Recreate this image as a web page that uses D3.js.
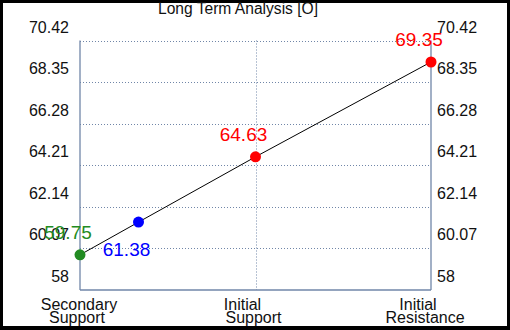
<!DOCTYPE html>
<html>
<head>
<meta charset="utf-8">
<script src="https://cdn.jsdelivr.net/npm/d3@7/dist/d3.min.js"></script>
<style>
  html, body { margin: 0; padding: 0; background: #000; }
  svg { display: block; }
  text { font-family: "Liberation Sans", Arial, sans-serif; }
</style>
</head>
<body>
<svg id="chart" width="510" height="330"></svg>
<script>
const title = "Long Term Analysis [O]";
const categories = ["Secondary Support", "Initial Support", "Initial Resistance"];
const categoryPos = [0, 3, 6];
const pointPos = [0, 1, 3, 6];
const pointValues = [59.75, 61.38, 64.63, 69.35];
const pointColors = ["#228B22", "#0000FF", "#FF0000", "#FF0000"];
const yTicks = [58, 60.07, 62.14, 64.21, 66.28, 68.35, 70.42];

(function () {
const svg = d3.select("#chart");
const W = 510, H = 330;
const axisColor = "#7086a8";

svg.append("rect").attr("x", 0).attr("y", 0).attr("width", W).attr("height", H).attr("fill", "#000");
svg.append("rect").attr("x", 3).attr("y", 3).attr("width", 504).attr("height", 323).attr("fill", "#fff");

const pLeft = 80, pRight = 431, pTop = 40.5, pBottom = 290;
const x = d3.scaleLinear().domain([0, 6]).range([pLeft, pRight]);
const y = d3.scaleLinear().domain([58, 70.42]).range([pBottom, pTop]);

// horizontal dotted grid
svg.append("g").selectAll("line").data(yTicks.slice(1)).join("line")
  .attr("x1", pLeft).attr("x2", pRight)
  .attr("y1", d => Math.round(y(d)) + 0.5).attr("y2", d => Math.round(y(d)) + 0.5)
  .attr("stroke", axisColor).attr("stroke-width", 1).attr("stroke-dasharray", "1,2");

// vertical dotted grid (middle category)
svg.append("g").selectAll("line").data(categoryPos.slice(1, -1)).join("line")
  .attr("x1", d => Math.round(x(d)) + 0.5).attr("x2", d => Math.round(x(d)) + 0.5)
  .attr("y1", pTop).attr("y2", pBottom)
  .attr("stroke", axisColor).attr("stroke-width", 1).attr("stroke-dasharray", "1,2");

// axis lines
const ax = svg.append("g").attr("stroke", axisColor).attr("stroke-width", 1.3).attr("fill", "none");
ax.append("line").attr("x1", pLeft).attr("x2", pLeft).attr("y1", pTop).attr("y2", pBottom);
ax.append("line").attr("x1", pRight).attr("x2", pRight).attr("y1", pTop).attr("y2", pBottom);
ax.append("line").attr("x1", pLeft).attr("x2", pRight).attr("y1", pBottom).attr("y2", pBottom);

// y tick labels (left, right)
svg.append("g").selectAll("text").data(yTicks).join("text")
  .attr("x", 69).attr("y", d => y(d) - 8)
  .attr("text-anchor", "end").attr("font-size", 16).attr("fill", "#111")
  .text(d => d);
svg.append("g").selectAll("text").data(yTicks).join("text")
  .attr("x", 437).attr("y", d => y(d) - 8)
  .attr("text-anchor", "start").attr("font-size", 16).attr("fill", "#111")
  .text(d => d);

// x category labels (two lines)
const lineShift = [[-1, -3], [-13, -2], [-13, -6]];
categories.forEach((c, i) => {
  const parts = c.split(" ");
  const t = svg.append("text").attr("font-size", 16).attr("fill", "#111").attr("text-anchor", "middle");
  t.append("tspan").attr("x", x(categoryPos[i]) + lineShift[i][0]).attr("y", 310).text(parts[0]);
  t.append("tspan").attr("x", x(categoryPos[i]) + lineShift[i][1]).attr("y", 323).text(parts.slice(1).join(" "));
});

// line
const pts = pointValues.map((v, i) => ({ x: pointPos[i], v, c: pointColors[i], i }));
svg.append("path").datum(pts)
  .attr("d", d3.line().x(d => x(d.x)).y(d => y(d.v)))
  .attr("fill", "none").attr("stroke", "#000").attr("stroke-width", 1);

// points
svg.append("g").selectAll("circle").data(pts).join("circle")
  .attr("cx", d => x(d.x)).attr("cy", d => y(d.v)).attr("r", 5.5)
  .attr("fill", d => d.c);

// value labels
svg.append("g").selectAll("text").data(pts).join("text")
  .attr("x", d => x(d.x) - 12)
  .attr("y", d => y(d.v) + (d.i === 1 ? 34 : -16))
  .attr("text-anchor", "middle").attr("font-size", 19)
  .attr("fill", d => d.c)
  .text(d => d.v.toFixed(2));

// title
svg.append("text").attr("x", 238).attr("y", 14).attr("text-anchor", "middle")
  .attr("font-size", 15.6).attr("fill", "#111").text(title);
})();
</script>
</body>
</html>
